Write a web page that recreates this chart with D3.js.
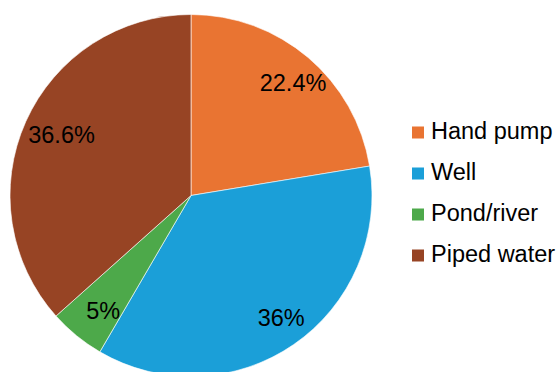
<!DOCTYPE html>
<html>
<head>
<meta charset="utf-8">
<script src="https://cdn.jsdelivr.net/npm/d3@7/dist/d3.min.js"></script>
<style>
  html, body { margin: 0; padding: 0; background: #fff; }
  svg { display: block; }
  text { font-family: "Liberation Sans", Arial, sans-serif; fill: #000; }
</style>
</head>
<body>
<svg id="chart" width="559" height="372"></svg>
<script>
// Drinking-water sources, share of households (%)
const categories = ["Hand pump", "Well", "Pond/river", "Piped water"];
const shares = [22.4, 36, 5, 36.6];
const shareLabels = ["22.4%", "36%", "5%", "36.6%"];
const colors = ["#E97432", "#1B9FD8", "#4DA94A", "#974424"];

const svg = d3.select("#chart");
const cx = 191, cy = 195.5, R = 181;

const data = categories.map((c, i) => ({ name: c, value: shares[i], label: shareLabels[i], color: colors[i] }));

const pie = d3.pie().value(d => d.value).sort(null);
const arcs = pie(data);

const arc = d3.arc().innerRadius(0).outerRadius(R);
const labelArc = d3.arc().innerRadius(R * 0.82).outerRadius(R * 0.82);

const g = svg.append("g").attr("transform", `translate(${cx},${cy})`);

g.selectAll("path.slice")
  .data(arcs)
  .join("path")
  .attr("class", "slice")
  .attr("d", arc)
  .attr("fill", d => d.data.color)
  .attr("stroke", "#ffffff")
  .attr("stroke-width", 0.6);

g.selectAll("text.val")
  .data(arcs)
  .join("text")
  .attr("class", "val")
  .attr("transform", d => {
    const [x, y] = labelArc.centroid(d);
    return `translate(${x + 6},${y})`;
  })
  .attr("text-anchor", "middle")
  .attr("dy", "0.36em")
  .style("font-size", "23.5px")
  .text(d => d.data.label);

// Legend
const legend = svg.append("g").attr("transform", "translate(412,138.5)");
const rows = legend.selectAll("g.row")
  .data(data)
  .join("g")
  .attr("class", "row")
  .attr("transform", (d, i) => `translate(0,${i * 41})`);

rows.append("rect")
  .attr("x", 0).attr("y", -12)
  .attr("width", 12).attr("height", 12)
  .attr("fill", d => d.color);

rows.append("text")
  .attr("x", 19).attr("y", 0)
  .style("font-size", "23.5px")
  .text(d => d.name);
</script>
</body>
</html>
